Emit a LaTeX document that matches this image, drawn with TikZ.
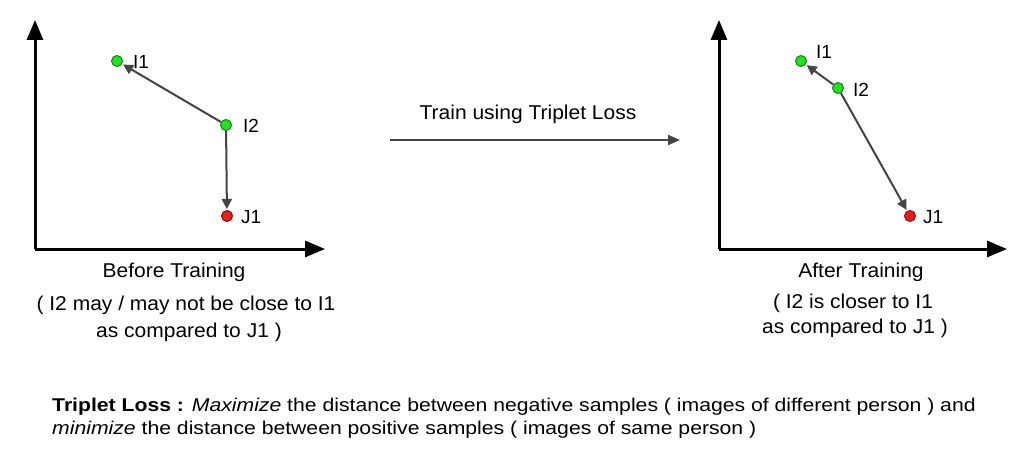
\documentclass[tikz,border=0pt]{standalone}
\usepackage{fontspec}
\setmainfont{Liberation Sans}
\usetikzlibrary{arrows.meta}
\definecolor{ptgreen}{HTML}{22E022}
\definecolor{ptgreenedge}{HTML}{1E7A1E}
\definecolor{ptred}{HTML}{E81E1E}
\definecolor{ptrededge}{HTML}{8A1010}
\definecolor{linkgray}{HTML}{444444}
\tikzset{
  axisline/.style={line width=3pt, -{Triangle[length=20pt,width=16pt]}},
  link/.style={draw=linkgray, line width=2pt, -{Triangle[length=10pt,width=10pt]}, shorten >=1pt},
  goodpt/.style={circle, fill=ptgreen, draw=ptgreenedge, line width=1pt, minimum size=11pt, inner sep=0pt},
  badpt/.style={circle, fill=ptred, draw=ptrededge, line width=1pt, minimum size=11pt, inner sep=0pt},
  ptlabel/.style={anchor=west, inner sep=0pt, font=\fontsize{19}{22}\selectfont},
  caption/.style={anchor=base, inner sep=0pt, transform shape, xscale=1.05, font=\fontsize{20}{26}\selectfont},
  notetext/.style={anchor=base west, inner sep=0pt, transform shape, xscale=1.145, font=\fontsize{18.5}{22}\selectfont}
}
\begin{document}
\begin{tikzpicture}[x=1pt,y=-1pt]
\useasboundingbox[fill=white] (0,0) rectangle (1024,452);

% ---- left plot ----
\coordinate (LO) at (35,249);
\coordinate (LY) at (35,20);
\coordinate (LX) at (325,249);
\draw[axisline] (LO) -- (LY);
\draw[axisline] (LO) -- (LX);

\node[goodpt] (lI1) at (117,61) {};
\node[goodpt] (lI2) at (226,125) {};
\node[badpt]  (lJ1) at (227,216) {};
\draw[link] (lI2) -- (lI1);
\draw[link] (lI2) -- (lJ1);
\node[ptlabel] (lI1t) at (133,62) {I1};
\node[ptlabel] (lI2t) at (243,126) {I2};
\node[ptlabel] (lJ1t) at (241,217) {J1};

\node[caption] (lcap) at (174,277) {Before Training};
\node[caption] (lc2) at (186,310) {( I2 may / may not be close to I1};
\node[caption] (lc3) at (189,337) {as compared to J1 )};

% ---- middle arrow ----
\node[caption] (train) at (528,119) {Train using Triplet Loss};
\coordinate (MA) at (390,140);
\coordinate (MB) at (680,140);
\draw[draw=linkgray, line width=2pt, -{Triangle[length=12pt,width=10pt]}] (MA) -- (MB);

% ---- right plot ----
\coordinate (RO) at (719,249);
\coordinate (RY) at (719,20);
\coordinate (RX) at (1007,249);
\draw[axisline] (RO) -- (RY);
\draw[axisline] (RO) -- (RX);

\node[goodpt] (rI1) at (801,61) {};
\node[goodpt] (rI2) at (838,88) {};
\node[badpt]  (rJ1) at (910,216) {};
\draw[link] (rI2) -- (rI1);
\draw[link] (rI2) -- (rJ1);
\node[ptlabel] (rI1t) at (816,52) {I1};
\node[ptlabel] (rI2t) at (853,90) {I2};
\node[ptlabel] (rJ1t) at (923,217) {J1};

\node[caption] (rcap) at (861,277) {After Training};
\node[caption] (rc2) at (853,308) {( I2 is closer to I1};
\node[caption] (rc3) at (855,333) {as compared to J1 )};

% ---- bottom note ----
\node[notetext] (note1) at (52,411) {\textbf{Triplet Loss :} \textit{Maximize} the distance between negative samples ( images of different person ) and};
\node[notetext] (note2) at (52,434) {\textit{minimize} the distance between positive samples ( images of same person )};
\end{tikzpicture}
\end{document}
